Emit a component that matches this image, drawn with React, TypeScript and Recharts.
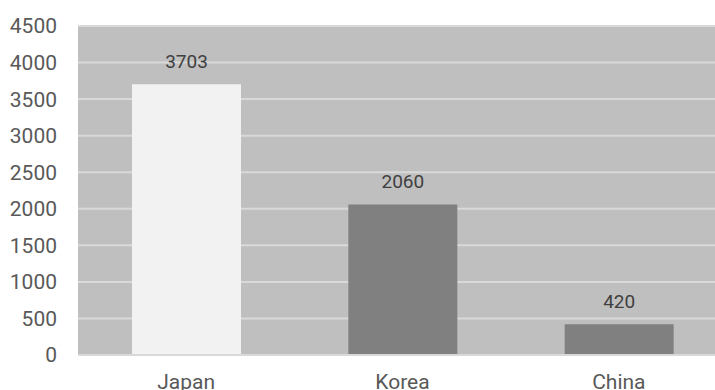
import { BarChart, Bar, XAxis, YAxis, CartesianGrid, LabelList, Cell } from "recharts"

const countries = ["Japan", "Korea", "China"]
const counts = [3703, 2060, 420]
const barColors = ["#f2f2f2", "#808080", "#808080"]
const yTicks = [0, 500, 1000, 1500, 2000, 2500, 3000, 3500, 4000, 4500]

const data = countries.map((name, i) => ({ name, value: counts[i] }))

const App: React.FC = () => {
  return (
    <div style={{ position: "fixed", left: 0, top: 0, width: 715, height: 390, overflow: "hidden", background: "#fff" }}>
      <BarChart
        width={727}
        height={400}
        data={data}
        margin={{ top: 26, right: 0, left: 0, bottom: 0 }}
        barSize={109}
        style={{ fontFamily: "Roboto, sans-serif" }}
      >
        <CartesianGrid vertical={false} fill="#bfbfbf" stroke="#d9d9d9" strokeWidth={2} />
        <XAxis
          dataKey="name"
          height={45}
          tickLine={false}
          axisLine={{ stroke: "#d9d9d9", strokeWidth: 2 }}
          tickSize={0}
          tickMargin={19}
          tick={{ fill: "#595959", fontSize: 21 }}
        />
        <YAxis
          width={78}
          domain={[0, 4500]}
          ticks={yTicks}
          interval={0}
          axisLine={false}
          tickLine={false}
          tickSize={0}
          tickMargin={21}
          tick={{ fill: "#595959", fontSize: 21 }}
        />
        <Bar dataKey="value" isAnimationActive={false}>
          {data.map((d, i) => (
            <Cell key={d.name} fill={barColors[i]} />
          ))}
          <LabelList dataKey="value" position="top" offset={16} fill="#404040" fontSize={19} />
        </Bar>
      </BarChart>
    </div>
  )
}

export default App
